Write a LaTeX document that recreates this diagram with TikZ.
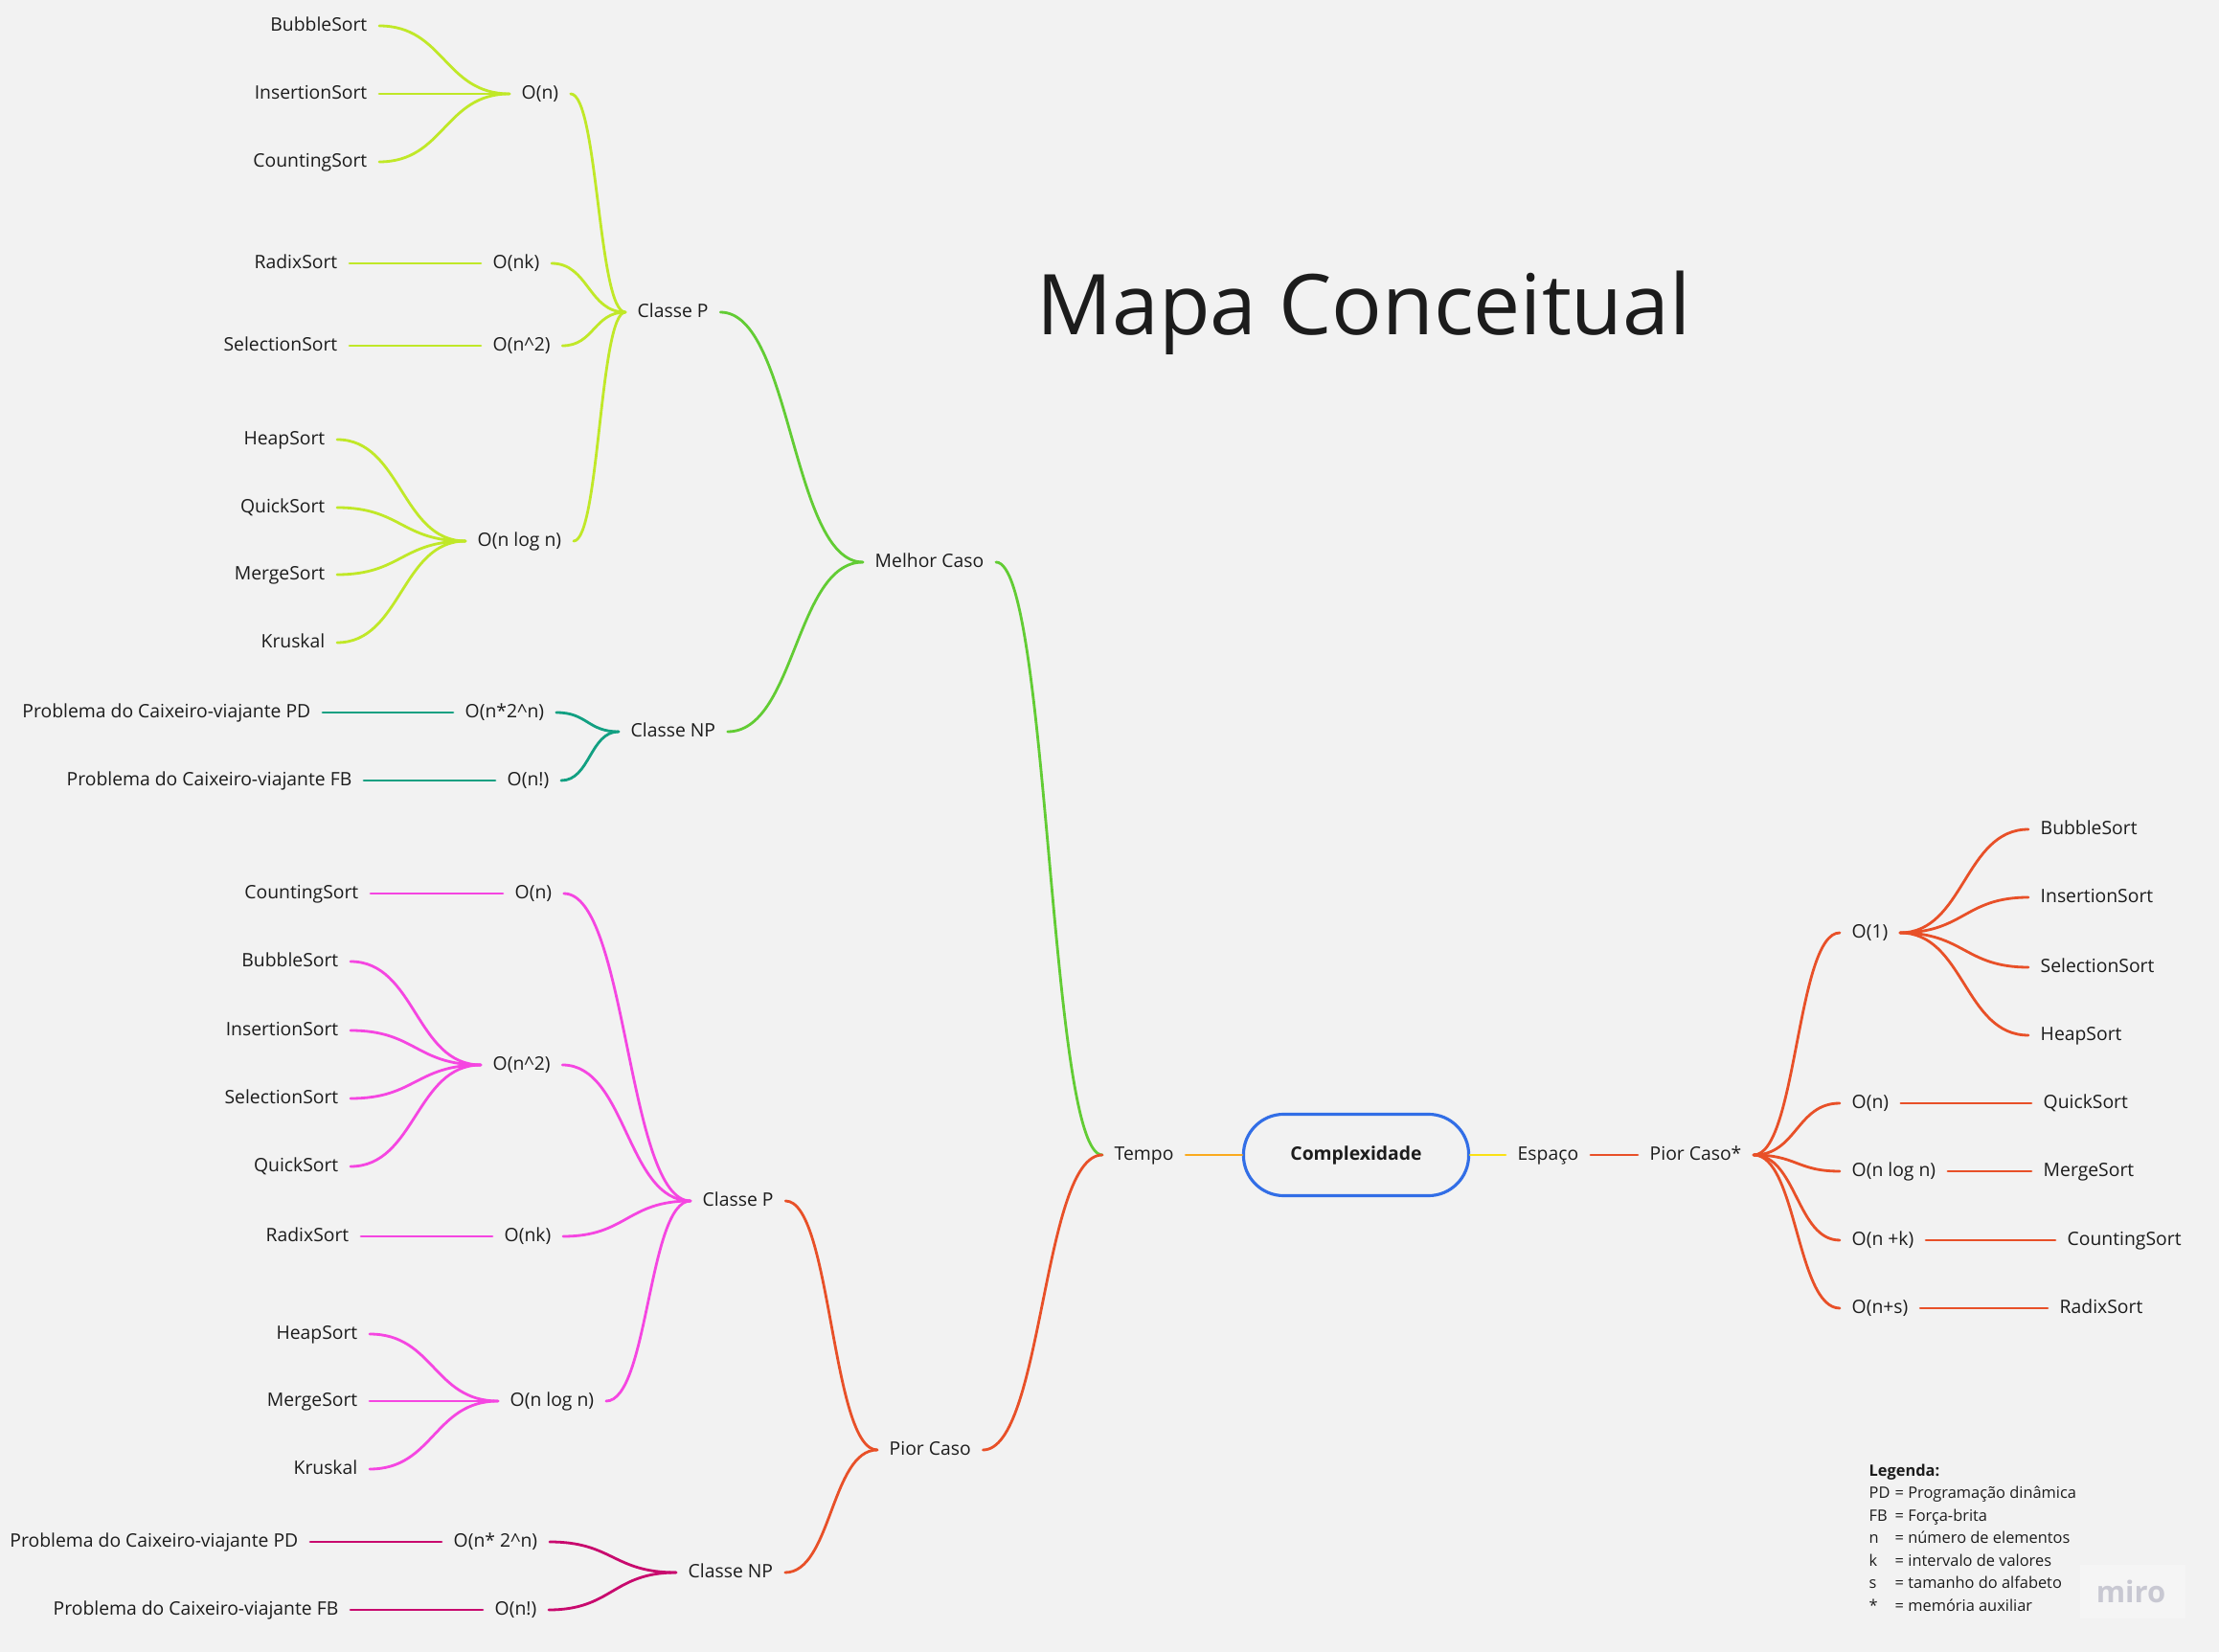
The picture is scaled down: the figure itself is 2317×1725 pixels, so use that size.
\documentclass[tikz,border=0pt]{standalone}
\usepackage{fontspec}
\setmainfont{Open Sans}
\usetikzlibrary{calc}

\definecolor{bg}{RGB}{242,242,242}
\definecolor{ink}{RGB}{28,28,28}
\definecolor{cLime}{RGB}{192,232,40}
\definecolor{cGreen}{RGB}{98,204,52}
\definecolor{cTeal}{RGB}{18,160,130}
\definecolor{cRed}{RGB}{232,80,40}
\definecolor{cPink}{RGB}{245,70,225}
\definecolor{cPlum}{RGB}{200,10,110}
\definecolor{cOrange}{RGB}{250,170,30}
\definecolor{cYellow}{RGB}{250,225,20}
\definecolor{cBlue}{RGB}{50,110,230}
\definecolor{miroGray}{RGB}{200,200,210}

\begin{document}
\begin{tikzpicture}[x=0.01cm,y=-0.01cm,
  every node/.style={font=\fontsize{5.5pt}{6.6pt}\selectfont,text=ink},
  lbl/.style={inner xsep=0.12cm,inner ysep=0pt,text height=4.2pt,text depth=1.3pt},
  link/.style={line width=0.8pt,line cap=round,
    to path={let \p1=(\tikztostart),\p2=(\tikztotarget) in
      .. controls (\x1/2+\x2/2,\y1) and (\x1/2+\x2/2,\y2) .. (\tikztotarget)}}]
\fill[bg] (0,-2) rectangle (2317,1723);
\useasboundingbox (0,-2) rectangle (2317,1723);

% titulo e legenda
\node[font=\fontsize{24.9pt}{30pt}\selectfont,inner sep=0] (titulo) at (1424,325) {Mapa Conceitual};
\node[anchor=north west,inner sep=0,align=left,font=\fontsize{4.66pt}{6.7pt}\selectfont] (legenda) at (1951,1526)
  {\textbf{Legenda:}\\
   \makebox[0.27cm][l]{PD}= Programação dinâmica\\
   \makebox[0.27cm][l]{FB}= Força-brita\\
   \makebox[0.27cm][l]{n}= número de elementos\\
   \makebox[0.27cm][l]{k}= intervalo de valores\\
   \makebox[0.27cm][l]{s}= tamanho do alfabeto\\
   \makebox[0.27cm][l]{*}= memória auxiliar};
\fill[white,opacity=0.3] (2172,1632) rectangle (2282,1688);
\node[font=\fontsize{8.8pt}{10pt}\selectfont\bfseries,text=miroGray,inner sep=0] (marca) at (2225,1660) {miro};

% centro
\node[draw=cBlue,line width=0.9pt,fill=bg,rounded corners=0.42cm,minimum width=2.35cm,minimum height=0.85cm,
  font=\fontsize{5.5pt}{6.6pt}\selectfont\bfseries] (cx) at (1416,1204) {Complexidade};
\node[lbl,anchor=west] (tempo) at (1151,1204) {Tempo};
\node[lbl,anchor=west] (espaco) at (1572,1204) {Espaço};
\node[lbl,anchor=west] (piorE) at (1710,1204) {Pior Caso*};
\draw[link,cOrange] (tempo.east) to (cx.west);
\draw[link,cYellow] (cx.east) to (espaco.west);
\draw[link,cRed] (espaco.east) to (piorE.west);

% tempo: melhor e pior caso
\node[lbl,anchor=west] (melhor) at (901,585) {Melhor Caso};
\node[lbl,anchor=west] (pior) at (916,1512) {Pior Caso};
\draw[link,cGreen] (melhor.east) to (tempo.west);
\draw[link,cRed] (pior.east) to (tempo.west);

\node[lbl,anchor=west] (mP) at (653,324) {Classe P};
\node[lbl,anchor=west] (mNP) at (646,762) {Classe NP};
\node[lbl,anchor=west] (pP) at (721,1252) {Classe P};
\node[lbl,anchor=west] (pNP) at (706,1640) {Classe NP};
\draw[link,cGreen] (mP.east) to (melhor.west);
\draw[link,cGreen] (mNP.east) to (melhor.west);
\draw[link,cRed] (pP.east) to (pior.west);
\draw[link,cRed] (pNP.east) to (pior.west);

% melhor caso, classe P
\foreach \nd/\x/\y/\lab in {mOn/532/96/O(n),mOnk/502/273/O(nk),mOnq/502/359/O(n\textasciicircum 2),mOlog/486/563/O(n log n)}{
  \node[lbl,anchor=west] (\nd) at (\x,\y) {\lab};
  \draw[link,cLime] (\nd.east) to (mP.west);}
\foreach \i/\y/\lab in {1/25/BubbleSort,2/96/InsertionSort,3/167/CountingSort}{
  \node[lbl,anchor=east] (ma\i) at (396,\y) {\lab};
  \draw[link,cLime] (ma\i.east) to (mOn.west);}
\node[lbl,anchor=east] (mb1) at (365,273) {RadixSort};
\node[lbl,anchor=east] (mb2) at (365,359) {SelectionSort};
\draw[link,cLime] (mb1.east) to (mOnk.west);
\draw[link,cLime] (mb2.east) to (mOnq.west);
\foreach \i/\y/\lab in {1/457/HeapSort,2/528/QuickSort,3/598/MergeSort,4/669/Kruskal}{
  \node[lbl,anchor=east] (mc\i) at (352,\y) {\lab};
  \draw[link,cLime] (mc\i.east) to (mOlog.west);}

% melhor caso, classe NP
\node[lbl,anchor=west] (mOexp) at (473,742) {O(n*2\textasciicircum n)};
\node[lbl,anchor=west] (mOfat) at (517,813) {O(n!)};
\node[lbl,anchor=east] (mPD) at (337,742) {Problema do Caixeiro-viajante PD};
\node[lbl,anchor=east] (mFB) at (380,813) {Problema do Caixeiro-viajante FB};
\draw[link,cTeal] (mOexp.east) to (mNP.west);
\draw[link,cTeal] (mOfat.east) to (mNP.west);
\draw[link,cTeal] (mPD.east) to (mOexp.west);
\draw[link,cTeal] (mFB.east) to (mOfat.west);

% pior caso, classe P
\foreach \nd/\x/\y/\lab in {pOn/525/931/O(n),pOnq/502/1110/O(n\textasciicircum 2),pOnk/514/1289/O(nk),pOlog/520/1461/O(n log n)}{
  \node[lbl,anchor=west] (\nd) at (\x,\y) {\lab};
  \draw[link,cPink] (\nd.east) to (pP.west);}
\node[lbl,anchor=east] (pa1) at (387,931) {CountingSort};
\draw[link,cPink] (pa1.east) to (pOn.west);
\foreach \i/\y/\lab in {1/1002/BubbleSort,2/1074/InsertionSort,3/1145/SelectionSort,4/1216/QuickSort}{
  \node[lbl,anchor=east] (pb\i) at (366,\y) {\lab};
  \draw[link,cPink] (pb\i.east) to (pOnq.west);}
\node[lbl,anchor=east] (pc1) at (377,1289) {RadixSort};
\draw[link,cPink] (pc1.east) to (pOnk.west);
\foreach \i/\y/\lab in {1/1391/HeapSort,2/1461/MergeSort,3/1532/Kruskal}{
  \node[lbl,anchor=east] (pd\i) at (386,\y) {\lab};
  \draw[link,cPink] (pd\i.east) to (pOlog.west);}

% pior caso, classe NP
\node[lbl,anchor=west] (pOexp) at (461,1608) {O(n* 2\textasciicircum n)};
\node[lbl,anchor=west] (pOfat) at (504,1679) {O(n!)};
\node[lbl,anchor=east] (pPD) at (324,1608) {Problema do Caixeiro-viajante PD};
\node[lbl,anchor=east] (pFB) at (366,1679) {Problema do Caixeiro-viajante FB};
\draw[link,cPlum] (pOexp.east) to (pNP.west);
\draw[link,cPlum] (pOfat.east) to (pNP.west);
\draw[link,cPlum] (pPD.east) to (pOexp.west);
\draw[link,cPlum] (pFB.east) to (pOfat.west);

% espaco
\foreach \nd/\y/\lab in {e1/972/O(1),e2/1150/O(n),e3/1221/O(n log n),e4/1293/O(n +k),e5/1364/O(n+s)}{
  \node[lbl,anchor=west] (\nd) at (1921,\y) {\lab};
  \draw[link,cRed] (piorE.east) to (\nd.west);}
\foreach \i/\y/\lab in {1/864/BubbleSort,2/935/InsertionSort,3/1008/SelectionSort,4/1079/HeapSort}{
  \node[lbl,anchor=west] (ea\i) at (2118,\y) {\lab};
  \draw[link,cRed] (e1.east) to (ea\i.west);}
\node[lbl,anchor=west] (eb2) at (2121,1150) {QuickSort};
\node[lbl,anchor=west] (eb3) at (2121,1221) {MergeSort};
\node[lbl,anchor=west] (eb4) at (2146,1293) {CountingSort};
\node[lbl,anchor=west] (eb5) at (2138,1364) {RadixSort};
\foreach \i in {2,3,4,5}{\draw[link,cRed] (e\i.east) to (eb\i.west);}
\end{tikzpicture}
\end{document}
